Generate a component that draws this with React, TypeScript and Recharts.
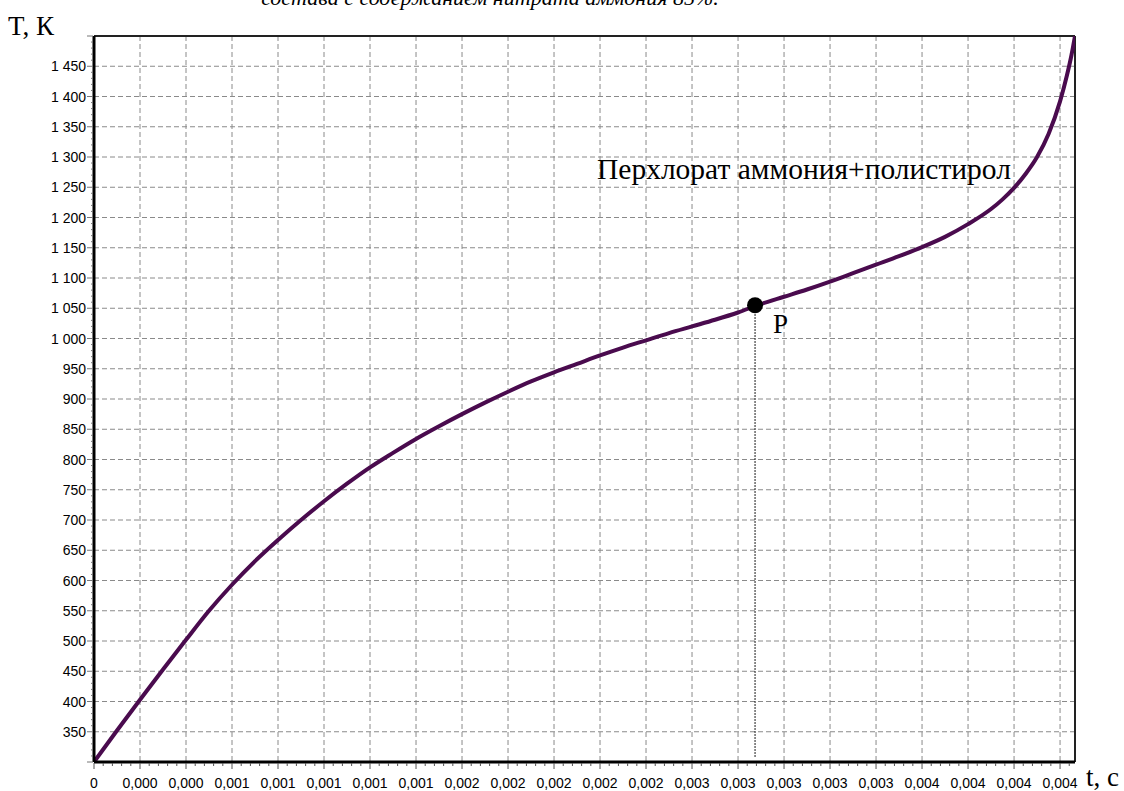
import React from 'react';
import {
  LineChart,
  Line,
  XAxis,
  YAxis,
  CartesianGrid,
  ReferenceLine,
  ReferenceDot,
} from 'recharts';

// ---- data ----
const timeValues = [
  0, 0.0001, 0.0002, 0.0003, 0.0004, 0.0005, 0.0006, 0.0007, 0.0008, 0.0009,
  0.001, 0.0011, 0.0012, 0.0013, 0.0014, 0.0015, 0.0016, 0.0017, 0.0018, 0.0019,
  0.002, 0.0021, 0.0022, 0.0023, 0.0024, 0.0025, 0.0026, 0.0027, 0.0028, 0.0029,
  0.003, 0.0031, 0.0032, 0.0033, 0.0034, 0.0035, 0.0036, 0.0037, 0.0038, 0.0039,
  0.00395, 0.004, 0.00405, 0.0041, 0.00415, 0.0042, 0.00423, 0.00425, 0.004265,
];
const temperatureValues = [
  300, 352, 403, 453, 502, 550, 593, 632, 667, 700,
  731, 760, 787, 811, 834, 855, 875, 894, 912, 929,
  944, 958, 972, 985, 997, 1009, 1020, 1031, 1043, 1057,
  1069, 1081, 1094, 1108, 1122, 1136, 1151, 1168, 1189, 1214,
  1230, 1249, 1272, 1300, 1338, 1392, 1435, 1469, 1500,
];

const xMajorTicks = [
  0, 0.0002, 0.0004, 0.0006, 0.0008, 0.001, 0.0012, 0.0014, 0.0016, 0.0018, 0.002,
  0.0022, 0.0024, 0.0026, 0.0028, 0.003, 0.0032, 0.0034, 0.0036, 0.0038, 0.004, 0.0042,
];
const xTickLabels = [
  '0', '0,000', '0,000', '0,001', '0,001', '0,001', '0,001', '0,001', '0,002', '0,002', '0,002',
  '0,002', '0,002', '0,003', '0,003', '0,003', '0,003', '0,003', '0,004', '0,004', '0,004', '0,004',
];
const yMajorTicks = [
  350, 400, 450, 500, 550, 600, 650, 700, 750, 800, 850, 900,
  950, 1000, 1050, 1100, 1150, 1200, 1250, 1300, 1350, 1400, 1450,
];
const yTickLabels = [
  '350', '400', '450', '500', '550', '600', '650', '700', '750', '800', '850', '900',
  '950', '1 000', '1 050', '1 100', '1 150', '1 200', '1 250', '1 300', '1 350', '1 400', '1 450',
];

const pointP = { t: 0.002874, T: 1055, bottomT: 308 };

const X_MAX = 0.004265;
const Y_MIN = 300;
const Y_MAX = 1500;
const X_MINOR_STEP = 0.00004;
const Y_MINOR_STEP = 10;

const xMinorTicks: number[] = [];
for (let i = 0; i * X_MINOR_STEP <= X_MAX; i++) xMinorTicks.push(i * X_MINOR_STEP);
const yMinorTicks: number[] = [];
for (let v = Y_MIN; v <= Y_MAX; v += Y_MINOR_STEP) yMinorTicks.push(v);

const chartData = timeValues.map((t, i) => ({ t, T: temperatureValues[i] }));

const SANS = '"Liberation Sans", Arial, sans-serif';
const SERIF = '"Liberation Serif", "Times New Roman", serif';

const XTick = (props: any) => {
  const { x, y, payload } = props;
  const idx = Math.round(payload.value / X_MINOR_STEP);
  const major = idx % 5 === 0;
  const labelIdx = idx / 5;
  return (
    <g>
      <line x1={x} x2={x} y1={y + 1} y2={y + (major ? 7 : 4)} stroke="#555" strokeWidth={1} />
      {major && labelIdx < xTickLabels.length && (
        <text x={x} y={y + 26} textAnchor="middle" fontSize={14} fontFamily={SANS} fill="#000">
          {xTickLabels[labelIdx]}
        </text>
      )}
    </g>
  );
};

const YTick = (props: any) => {
  const { x, y, payload } = props;
  const v = Math.round(payload.value);
  const li = yMajorTicks.indexOf(v);
  const major = v % 50 === 0;
  return (
    <g>
      <line x1={x - (major ? 7 : 3)} x2={x - 1} y1={y} y2={y} stroke="#777" strokeWidth={1} />
      {li >= 0 && (
        <text x={x - 8} y={y + 5} textAnchor="end" fontSize={14} fontFamily={SANS} fill="#000">
          {yTickLabels[li]}
        </text>
      )}
    </g>
  );
};

export default function App() {
  return (
    <div
      style={{
        position: 'absolute',
        left: 0,
        top: 0,
        width: 1124,
        height: 791,
        overflow: 'hidden',
        background: '#fff',
      }}
    >
      <LineChart
        width={1124}
        height={791}
        data={chartData}
        margin={{ top: 36, right: 49, bottom: 0, left: 0 }}
      >
        <CartesianGrid
          stroke="#8a8a8a"
          strokeDasharray="5 3"
          verticalValues={xMajorTicks}
          horizontalValues={yMajorTicks}
        />
        <XAxis
          dataKey="t"
          type="number"
          domain={[0, X_MAX]}
          allowDataOverflow
          ticks={xMinorTicks}
          interval={0}
          tickLine={false}
          tickSize={0}
          tickMargin={0}
          tick={(p: any) => <XTick {...p} />}
          axisLine={{ stroke: '#000', strokeWidth: 3 }}
          height={29}
        />
        <YAxis
          type="number"
          domain={[Y_MIN, Y_MAX]}
          allowDataOverflow
          ticks={yMinorTicks}
          interval={0}
          tickLine={false}
          tickSize={0}
          tickMargin={0}
          tick={(p: any) => <YTick {...p} />}
          axisLine={{ stroke: '#000', strokeWidth: 3 }}
          width={94}
        />
        <ReferenceLine y={Y_MAX} stroke="#222" strokeWidth={2} />
        <ReferenceLine x={X_MAX} stroke="#222" strokeWidth={2} />
        <ReferenceLine
          segment={[
            { x: pointP.t, y: pointP.T },
            { x: pointP.t, y: pointP.bottomT },
          ]}
          stroke="#000"
          strokeWidth={1.2}
          strokeDasharray="1.5 1.5"
        />
        <Line
          type="monotone"
          dataKey="T"
          stroke="#4a0b4e"
          strokeWidth={4}
          dot={false}
          activeDot={false}
          isAnimationActive={false}
        />
        <ReferenceDot x={pointP.t} y={pointP.T} r={8} fill="#000" stroke="none" />
      </LineChart>
      <svg
        width={1124}
        height={791}
        style={{ position: 'absolute', left: 0, top: 0, pointerEvents: 'none' }}
      >
        <text x={490} y={5} textAnchor="middle" fontSize={22} fontStyle="italic" fontFamily={SERIF} fill="#000">
          состава с содержанием нитрата аммония 85%.
        </text>
        <text x={8} y={35} fontSize={27} fontFamily={SERIF} fill="#000">
          T, К
        </text>
        <text x={1086} y={786} fontSize={27} fontFamily={SERIF} fill="#000">
          t, с
        </text>
        <text x={597} y={179} fontSize={29.5} fontFamily={SERIF} fill="#000">
          Перхлорат аммония+полистирол
        </text>
        <text x={773} y={333} fontSize={27} fontFamily={SERIF} fill="#000">
          P
        </text>
      </svg>
    </div>
  );
}
